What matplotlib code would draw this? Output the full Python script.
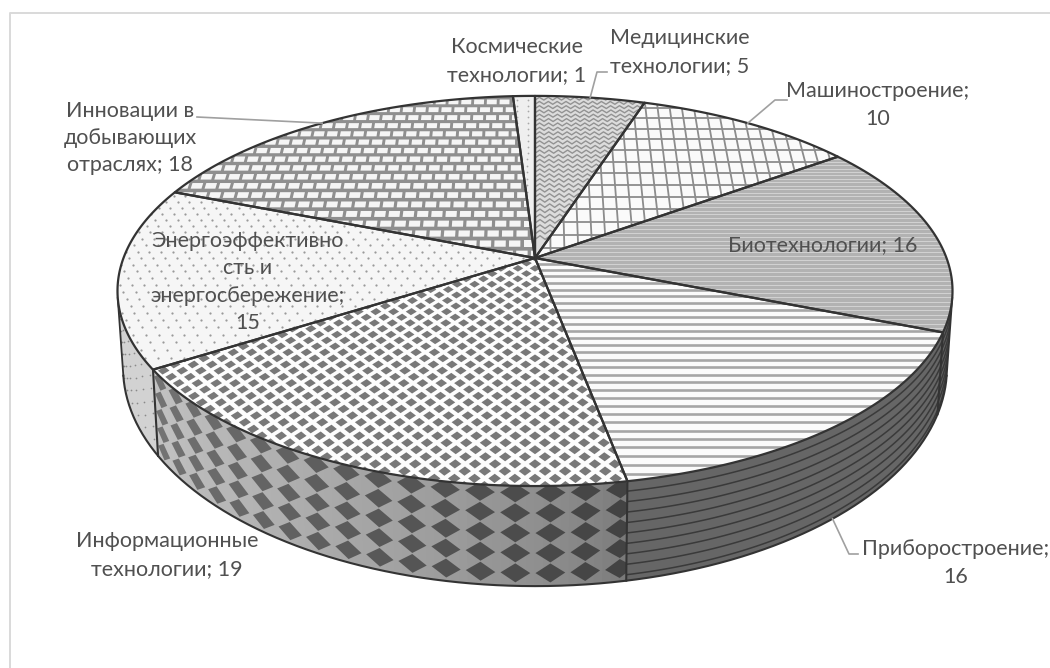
import numpy as np
import matplotlib
matplotlib.use("Agg")
import matplotlib.pyplot as plt
from matplotlib.patches import Polygon
from matplotlib.collections import LineCollection, PolyCollection

plt.rcParams['font.family'] = ['Lato', 'Open Sans', 'DejaVu Sans']

# data, clockwise from 12 o'clock
labels = ["Медицинские\nтехнологии; 5", "Машиностроение;\n10", "Биотехнологии; 16",
          "Приборостроение;\n16", "Информационные\nтехнологии; 19",
          "Энергоэффективно\nсть и\nэнергосбережение;\n15",
          "Инновации в\nдобывающих\nотраслях; 18", "Космические\nтехнологии; 1"]
values = [5, 10, 16, 16, 19, 15, 18, 1]

label_pos = [(680, 52), (878, 105), (823, 245), (956, 563), (167, 555), (248, 282), (130, 138), (517, 61)]

# perspective of the pie, pixels
X0, Y0 = 535, 258
A, B, K = 411.5, 189.5, 0.169
A2, B2, Y0B = 406, 212, 331

EDGE = "#333333"
TEXT = "#505050"
LEADER = "#a0a0a0"

fig = plt.figure(figsize=(10.5, 6.68), dpi=100)
ax = fig.add_axes([0, 0, 1, 1])
ax.set_xlim(0, 1050)
ax.set_ylim(668, 0)
ax.axis("off")


def top_xy(x, y):
    d = 1 + K * y
    return X0 + A * x / d, Y0 - B * y / d


def bottom_xy(x, y):
    d = 1 + K * y
    return X0 + A2 * x / d, Y0B - B2 * y / d


def rim(theta, func=top_xy):
    t = np.radians(theta)
    return func(np.sin(t), np.cos(t))


def wall_xy(theta, t):
    xa, ya = rim(theta)
    xb, yb = rim(theta, bottom_xy)
    return xa + (xb - xa) * t, ya + (yb - ya) * t


def arc(t1, t2, func=top_xy):
    th = np.linspace(t1, t2, max(int(abs(t2 - t1) * 2), 3))
    return np.column_stack(rim(th, func))


def gray(v):
    return (v / 255, v / 255, v / 255)


# slice boundaries
cum = np.cumsum([0] + values) / np.sum(values) * 360
t_start = cum[:-1]
t_end = cum[1:]
t_mid = (t_start + t_end) / 2

# silhouette angles of the side wall
th = np.linspace(0, 360, 1441)
xa, ya = rim(th)
xb, yb = rim(th, bottom_xy)
tx, ty = np.gradient(xa), np.gradient(ya)
cross = (xb - xa) * ty - (yb - ya) * tx
vis = th[cross < 0] if (cross < 0)[np.argmin(np.abs(th - 180))] else th[cross > 0]
WALL_R, WALL_L = vis.min(), vis.max()

apex = np.array([[X0, Y0]])


def slice_poly(i):
    return np.vstack([apex, arc(t_start[i], t_end[i])])


def add_top(i, color):
    p = Polygon(slice_poly(i), closed=True, facecolor=color, edgecolor="none", zorder=5)
    ax.add_patch(p)
    return p


def wall_poly(t1, t2):
    return np.vstack([arc(t1, t2), arc(t2, t1, bottom_xy)])


def plane_lines(ys, x1=-1.1, x2=1.1):
    segs = []
    for y in ys:
        px, py = top_xy(np.linspace(x1, x2, 30), np.full(30, y))
        segs.append(np.column_stack([px, py]))
    return segs


def add_lines(segs, patch, color, lw, z=6):
    lc = LineCollection(segs, colors=color, linewidths=lw, zorder=z)
    ax.add_collection(lc)
    lc.set_clip_path(patch)


def add_cells(cells, patch, color, z=6):
    pc = PolyCollection(cells, facecolors=color, edgecolors="none", zorder=z)
    ax.add_collection(pc)
    pc.set_clip_path(patch)


def plane_cell(xs, ys):
    px, py = top_xy(np.array(xs), np.array(ys))
    return np.column_stack([px, py])


# --- side walls ---
# biotech sliver + instruments: dark with curved lines
for t1, t2 in [(WALL_R, t_end[2]), (t_start[3], t_end[3])]:
    p = Polygon(wall_poly(t1, t2), closed=True, facecolor="#666666", edgecolor="none", zorder=2)
    ax.add_patch(p)
    segs = []
    for f in np.arange(0.1, 1.0, 0.105):
        tt = np.linspace(t1, t2, 80)
        segs.append(np.column_stack(wall_xy(tt, f)))
    add_lines(segs, p, "#3a3a3a", 1.1, z=3)

# info wall, gradient + diamonds
t1, t2 = t_start[4], t_end[4]
info_wall = Polygon(wall_poly(t1, t2), closed=True, facecolor="#999999", edgecolor="none", zorder=2)
ax.add_patch(info_wall)
steps = np.linspace(t1, t2, 70)
for a, b in zip(steps[:-1], steps[1:]):
    f = (0.5 * (a + b) - t1) / (t2 - t1)
    ax.add_patch(Polygon(wall_poly(a - 0.1, b + 0.1), closed=True, facecolor=gray(118 + 76 * f ** 0.6),
                         edgecolor="none", zorder=2))
for c in np.arange(t1 + 0.8, t2 + 4, 4.1):
    for r in np.arange(0.07, 1.05, 0.2):
        f = min((c - t1) / (t2 - t1), 1)
        dw, dh = 1.75, 0.095
        px, py = wall_xy(np.array([c - dw, c, c + dw, c]), np.array([r, r - dh, r, r + dh]))
        cell = Polygon(np.column_stack([px, py]), closed=True,
                       facecolor=gray(66 + 50 * f), edgecolor="none", zorder=3)
        ax.add_patch(cell)
        cell.set_clip_path(info_wall)

# energy wall, pale with dots
t1, t2 = t_start[5], WALL_L
energy_wall = Polygon(wall_poly(t1, t2), closed=True, facecolor="#d2d2d2", edgecolor="none", zorder=2)
ax.add_patch(energy_wall)
dx, dy = [], []
for c in np.arange(t1 + 1, t2, 3.2):
    for r in np.arange(0.1, 1, 0.15):
        px, py = wall_xy(c, r)
        dx.append(px)
        dy.append(py)
sc = ax.scatter(dx, dy, s=1.5, color="#8a8a8a", linewidths=0, zorder=3)
sc.set_clip_path(energy_wall)

# wall outlines
for t in (t_end[2], t_end[3], t_end[4]):
    ax.plot(*wall_xy(np.array([t, t]), np.array([0.0, 1.0])), color=EDGE, lw=1.5, zorder=4)
ax.plot(*arc(WALL_R, WALL_L, bottom_xy).T, color=EDGE, lw=1.5, zorder=4)
for t in (WALL_R, WALL_L):
    ax.plot(*wall_xy(np.array([t, t]), np.array([0.0, 1.0])), color=EDGE, lw=1.3, zorder=4)

# --- top faces ---
# medical: small zigzag
p = add_top(0, "#dcdcdc")
segs = []
for y in np.arange(0.1, 1.1, 0.03):
    xs = np.arange(-0.1, 0.45, 0.0125)
    ys = y + 0.02 * (np.arange(len(xs)) % 2)
    segs.append(plane_cell(xs, ys))
add_lines(segs, p, "#929292", 1.0)

# machinery: grid
p = add_top(1, "#fafafa")
add_lines(plane_lines(np.arange(-0.02, 1.1, 0.072)), p, "#8c8c8c", 1.3)
segs = [plane_cell([x, x], [-0.1, 1.1]) for x in np.arange(-0.2, 1.1, 0.034)]
add_lines(segs, p, "#8c8c8c", 1.3)

# biotech: fine stripes
p = add_top(2, "#b2b2b2")
add_lines(plane_lines(np.arange(-0.6, 0.9, 0.021)), p, "#d2d2d2", 0.7)

# instruments: white with gray stripes
p = add_top(3, "#fbfbfb")
add_lines(plane_lines(np.arange(-1.02, 0.05, 0.033)), p, "#a6a6a6", 1.9)

# info: diamonds
p = add_top(4, "#fdfdfd")
cells = []
px_, py_ = 0.0205, 0.027
for gx in np.arange(-52, 20):
    for gy in np.arange(-42, 4):
        if (gx + gy) % 2 == 0:
            cx, cy = gx * px_, gy * py_
            cells.append(plane_cell([cx - 0.0128, cx, cx + 0.0128, cx],
                                    [cy, cy + 0.0172, cy, cy - 0.0172]))
add_cells(cells, p, "#787878")

# energy: dots
p = add_top(5, "#f6f6f6")
dx, dy = [], []
for gx in np.arange(-75, 10):
    for gy in np.arange(-14, 24):
        if (gx + gy) % 2 == 0:
            qx, qy = top_xy(gx * 0.0145, gy * 0.0345)
            dx.append(qx)
            dy.append(qy)
sc = ax.scatter(dx, dy, s=2.6, color="#9a9a9a", linewidths=0, zorder=6)
sc.set_clip_path(p)

# innovations: bricks
p = add_top(6, "#8f8f8f")
cells = []
for r, gy in enumerate(np.arange(-0.05, 1.05, 0.055)):
    shift = 0.018 * (r % 2)
    for gx in np.arange(-1.0, 0.1, 0.036):
        cx = gx + shift
        cells.append(plane_cell([cx, cx + 0.028, cx + 0.028, cx],
                                [gy, gy, gy + 0.034, gy + 0.034]))
add_cells(cells, p, "#f5f5f5")

# space: pale, few dots
p = add_top(7, "#efefef")
dx, dy = [], []
for gy in np.arange(0.05, 1.0, 0.04):
    for gx in np.arange(-0.11, 0.0, 0.03):
        qx, qy = top_xy(gx, gy)
        dx.append(qx)
        dy.append(qy)
sc = ax.scatter(dx, dy, s=1.6, color="#a8a8a8", linewidths=0, zorder=6)
sc.set_clip_path(p)

# slice outlines
for i in range(len(values)):
    ax.add_patch(Polygon(slice_poly(i), closed=True, facecolor="none", edgecolor=EDGE, lw=1.6,
                         joinstyle="round", zorder=7))

# --- leaders ---
leader_knees = {0: [(597, 72), (607, 72)], 1: [(775, 100), (787, 100)], 6: [(197, 117)], 3: [(849, 554), (858, 554)]}
for i, knees in leader_knees.items():
    sx, sy = rim(t_mid[i], bottom_xy if i == 3 else top_xy)
    pts = np.array([(sx, sy)] + knees)
    ax.plot(pts[:, 0], pts[:, 1], color=LEADER, lw=1.2, zorder=8)

for lab, (lx, ly) in zip(labels, label_pos):
    ax.text(lx, ly, lab, ha="center", va="center", fontsize=15.5, color=TEXT, linespacing=1.45, zorder=9)

# chart frame, only top and left show
ax.plot([1050, 10, 10], [12.5, 12.5, 668], color="#d9d9d9", lw=1.4, zorder=1)

fig.savefig("out.png", dpi=100)
